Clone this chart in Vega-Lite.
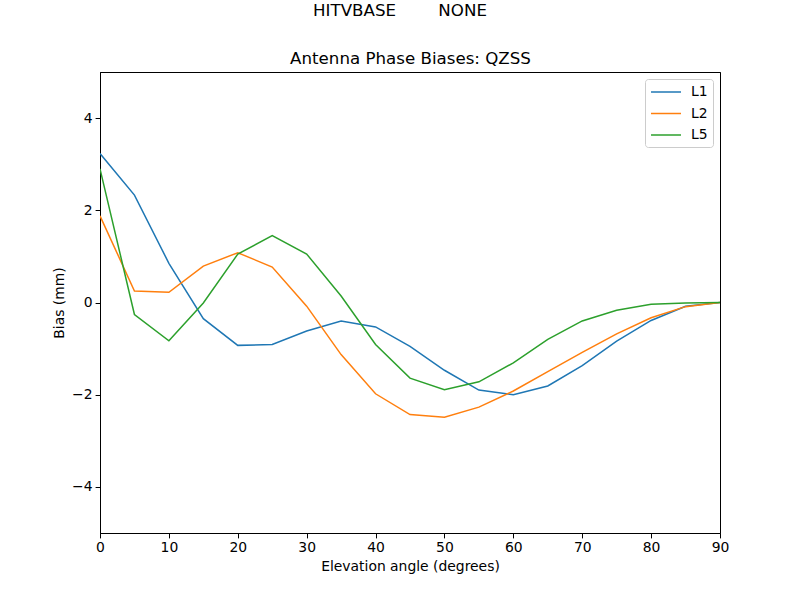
{
  "$schema": "https://vega.github.io/schema/vega-lite/v6.json",
  "autosize": "none",
  "width": 620,
  "height": 461,
  "padding": {"left": 100, "top": 72, "right": 80, "bottom": 67},
  "background": "white",
  "title": {
    "text": "HITVBASE\u00a0\u00a0\u00a0\u00a0\u00a0\u00a0\u00a0\u00a0NONE",
    "font": "DejaVu Sans",
    "fontSize": 16.67,
    "fontWeight": "normal",
    "color": "black",
    "anchor": "middle",
    "dx": -10,
    "offset": 30
  },
  "data": {
    "values": [
      {"angle": 0, "freq": "L1", "bias": 3.23},
      {"angle": 5, "freq": "L1", "bias": 2.33},
      {"angle": 10, "freq": "L1", "bias": 0.85},
      {"angle": 15, "freq": "L1", "bias": -0.35},
      {"angle": 20, "freq": "L1", "bias": -0.93},
      {"angle": 25, "freq": "L1", "bias": -0.91},
      {"angle": 30, "freq": "L1", "bias": -0.62},
      {"angle": 35, "freq": "L1", "bias": -0.4},
      {"angle": 40, "freq": "L1", "bias": -0.53},
      {"angle": 45, "freq": "L1", "bias": -0.95},
      {"angle": 50, "freq": "L1", "bias": -1.47},
      {"angle": 55, "freq": "L1", "bias": -1.9},
      {"angle": 60, "freq": "L1", "bias": -2.0},
      {"angle": 65, "freq": "L1", "bias": -1.81},
      {"angle": 70, "freq": "L1", "bias": -1.37},
      {"angle": 75, "freq": "L1", "bias": -0.84},
      {"angle": 80, "freq": "L1", "bias": -0.39},
      {"angle": 85, "freq": "L1", "bias": -0.08},
      {"angle": 90, "freq": "L1", "bias": 0.0},
      {"angle": 0, "freq": "L2", "bias": 1.88},
      {"angle": 5, "freq": "L2", "bias": 0.25},
      {"angle": 10, "freq": "L2", "bias": 0.22},
      {"angle": 15, "freq": "L2", "bias": 0.79},
      {"angle": 20, "freq": "L2", "bias": 1.08},
      {"angle": 25, "freq": "L2", "bias": 0.77},
      {"angle": 30, "freq": "L2", "bias": -0.08},
      {"angle": 35, "freq": "L2", "bias": -1.13},
      {"angle": 40, "freq": "L2", "bias": -1.98},
      {"angle": 45, "freq": "L2", "bias": -2.43},
      {"angle": 50, "freq": "L2", "bias": -2.49},
      {"angle": 55, "freq": "L2", "bias": -2.27},
      {"angle": 60, "freq": "L2", "bias": -1.92},
      {"angle": 65, "freq": "L2", "bias": -1.5},
      {"angle": 70, "freq": "L2", "bias": -1.08},
      {"angle": 75, "freq": "L2", "bias": -0.68},
      {"angle": 80, "freq": "L2", "bias": -0.33},
      {"angle": 85, "freq": "L2", "bias": -0.09},
      {"angle": 90, "freq": "L2", "bias": 0.0},
      {"angle": 0, "freq": "L5", "bias": 2.9},
      {"angle": 5, "freq": "L5", "bias": -0.26},
      {"angle": 10, "freq": "L5", "bias": -0.83},
      {"angle": 15, "freq": "L5", "bias": -0.01},
      {"angle": 20, "freq": "L5", "bias": 1.05},
      {"angle": 25, "freq": "L5", "bias": 1.45},
      {"angle": 30, "freq": "L5", "bias": 1.05},
      {"angle": 35, "freq": "L5", "bias": 0.14},
      {"angle": 40, "freq": "L5", "bias": -0.91},
      {"angle": 45, "freq": "L5", "bias": -1.64},
      {"angle": 50, "freq": "L5", "bias": -1.89},
      {"angle": 55, "freq": "L5", "bias": -1.72},
      {"angle": 60, "freq": "L5", "bias": -1.31},
      {"angle": 65, "freq": "L5", "bias": -0.8},
      {"angle": 70, "freq": "L5", "bias": -0.4},
      {"angle": 75, "freq": "L5", "bias": -0.17},
      {"angle": 80, "freq": "L5", "bias": -0.04},
      {"angle": 85, "freq": "L5", "bias": -0.01},
      {"angle": 90, "freq": "L5", "bias": 0.0}
    ]
  },
  "layer": [
    {
      "mark": {"type": "line", "strokeWidth": 1.5, "clip": true},
      "encoding": {
        "x": {
          "field": "angle",
          "type": "quantitative",
          "scale": {"domain": [0, 90], "nice": false, "zero": false},
          "axis": {
            "orient": "bottom",
            "title": "Elevation angle (degrees)",
            "values": [0, 10, 20, 30, 40, 50, 60, 70, 80, 90],
            "format": "d",
            "labelFlush": false
          }
        },
        "y": {
          "field": "bias",
          "type": "quantitative",
          "scale": {"domain": [-5, 5], "nice": false},
          "axis": {
            "title": "Bias (mm)",
            "values": [-4, -2, 0, 2, 4],
            "format": "d",
            "labelFlush": false,
            "labelExpr": "replace(datum.label, '-', '\u2212')"
          }
        },
        "color": {
          "field": "freq",
          "type": "nominal",
          "scale": {"domain": ["L1", "L2", "L5"], "range": ["#1f77b4", "#ff7f0e", "#2ca02c"]},
          "legend": {
            "title": null,
            "orient": "top-right",
            "offset": 7,
            "symbolType": "M-2.14,0H2.14",
            "symbolSize": 196,
            "symbolOffset": 8,
            "symbolStrokeWidth": 1.5,
            "symbolFillColor": "transparent",
            "labelFontSize": 13.9,
            "labelFont": "DejaVu Sans",
            "labelColor": "black",
            "labelOffset": 17,
            "rowPadding": 6.5,
            "padding": 5,
            "strokeColor": "#cccccc",
            "fillColor": "white",
            "cornerRadius": 3
          }
        }
      }
    },
    {
      "mark": {"type": "line", "opacity": 0},
      "encoding": {
        "x": {
          "field": "angle",
          "type": "quantitative",
          "axis": {
            "orient": "top",
            "title": "Antenna Phase Biases: QZSS",
            "titleFontSize": 16.67,
            "titlePadding": 5,
            "labels": false,
            "ticks": false
          }
        },
        "y": {"field": "bias", "type": "quantitative"},
        "detail": {"field": "freq", "type": "nominal"}
      }
    }
  ],
  "resolve": {"axis": {"x": "independent"}},
  "config": {
    "view": {"stroke": "black", "strokeWidth": 1},
    "font": "DejaVu Sans",
    "axis": {
      "grid": false,
      "domainColor": "black",
      "domainWidth": 1,
      "tickColor": "black",
      "tickSize": 4.9,
      "tickWidth": 1,
      "labelFont": "DejaVu Sans",
      "labelFontSize": 13.9,
      "labelColor": "black",
      "labelPadding": 3,
      "titleFont": "DejaVu Sans",
      "titleFontSize": 13.9,
      "titleFontWeight": "normal",
      "titleColor": "black",
      "titlePadding": 5
    }
  }
}
